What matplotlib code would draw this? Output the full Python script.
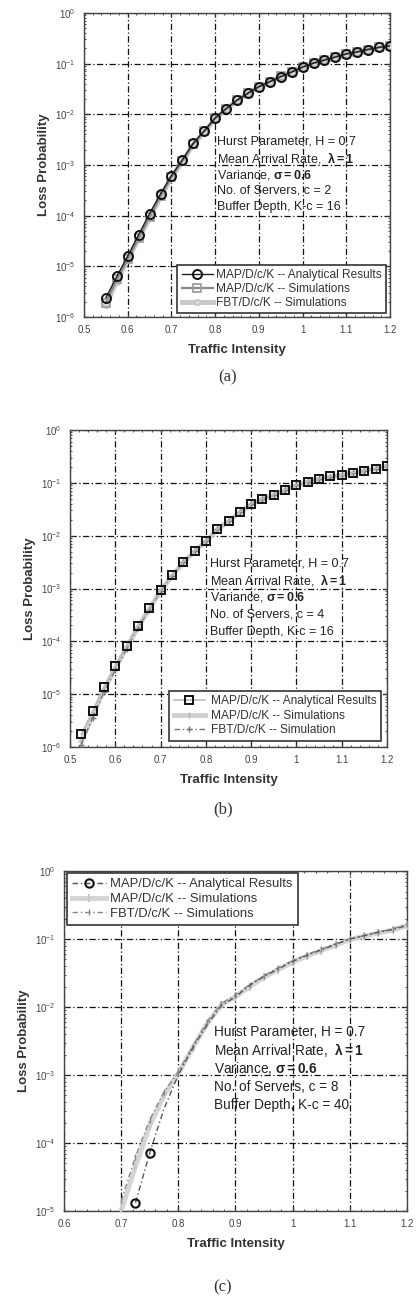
import numpy as np
import matplotlib
matplotlib.use('Agg')
import matplotlib.pyplot as plt
from matplotlib.ticker import FixedLocator, LogLocator, NullFormatter, MultipleLocator

plt.rcParams['font.family'] = ['Liberation Sans', 'DejaVu Sans']
plt.rcParams['mathtext.fontset'] = 'custom'
plt.rcParams['mathtext.rm'] = 'Liberation Sans'
plt.rcParams['mathtext.it'] = 'Liberation Sans:italic'
plt.rcParams['mathtext.bf'] = 'Liberation Sans:bold'

# (a) c = 2, K-c = 16
a_x = [0.55, 0.575, 0.6, 0.625, 0.65, 0.675, 0.7, 0.725, 0.75, 0.775, 0.8, 0.825, 0.85, 0.875,
       0.9, 0.925, 0.95, 0.975, 1.0, 1.025, 1.05, 1.075, 1.1, 1.125, 1.15, 1.175, 1.2]
a_ana = [2.4e-6, 6.3e-6, 1.6e-5, 4.2e-5, 1.1e-4, 2.7e-4, 6.2e-4, 1.26e-3, 2.7e-3, 4.7e-3, 8.5e-3,
         0.0129, 0.019, 0.026, 0.035, 0.044, 0.055, 0.068, 0.085, 0.102, 0.117, 0.135, 0.155,
         0.17, 0.19, 0.209, 0.224]
a_map = [1.9e-6, 5.5e-6, 1.4e-5, 3.6e-5, 9.5e-5, 2.4e-4, 5.8e-4, 1.2e-3, 2.6e-3, 4.6e-3, 8.3e-3,
         0.0127, 0.0188, 0.026, 0.035, 0.044, 0.056, 0.069, 0.086, 0.103, 0.118, 0.136, 0.156,
         0.171, 0.19, 0.21, 0.225]
a_fbt = [1.7e-6, 5.0e-6, 1.35e-5, 3.5e-5, 9.0e-5, 2.3e-4, 5.6e-4, 1.18e-3, 2.5e-3, 4.5e-3, 8.1e-3,
         0.0125, 0.0185, 0.0258, 0.0345, 0.0435, 0.0555, 0.068, 0.085, 0.101, 0.116, 0.134,
         0.154, 0.17, 0.189, 0.208, 0.222]

# (b) c = 4, K-c = 16
b_x = [0.525, 0.55, 0.575, 0.6, 0.625, 0.65, 0.675, 0.7, 0.725, 0.75, 0.775, 0.8, 0.825, 0.85,
       0.875, 0.9, 0.925, 0.95, 0.975, 1.0, 1.025, 1.05, 1.075, 1.1, 1.125, 1.15, 1.175, 1.2]
b_ana = [1.74e-6, 4.8e-6, 1.35e-5, 3.4e-5, 8.1e-5, 1.95e-4, 4.3e-4, 9.3e-4, 1.78e-3, 3.2e-3,
         5.1e-3, 7.9e-3, 0.0132, 0.019, 0.028, 0.040, 0.050, 0.060, 0.074, 0.091, 0.105, 0.120,
         0.132, 0.141, 0.155, 0.170, 0.186, 0.209]
b_map = [1.3e-6, 4.0e-6, 1.2e-5, 3.1e-5, 7.6e-5, 1.85e-4, 4.1e-4, 9.0e-4, 1.7e-3, 3.1e-3,
         5.0e-3, 7.8e-3, 0.013, 0.0188, 0.0275, 0.039, 0.049, 0.059, 0.073, 0.09, 0.104, 0.118,
         0.131, 0.14, 0.153, 0.168, 0.185, 0.21]
b_fbt = [1.1e-6, 3.6e-6, 1.1e-5, 2.9e-5, 7.2e-5, 1.8e-4, 4.0e-4, 8.8e-4, 1.72e-3, 3.15e-3,
         5.05e-3, 7.9e-3, 0.0131, 0.0189, 0.0277, 0.0395, 0.0495, 0.0595, 0.0735, 0.0905, 0.104,
         0.119, 0.131, 0.141, 0.154, 0.169, 0.186, 0.208]

# (c) c = 8, K-c = 40
c_x_ana = [0.725, 0.75, 0.775, 0.8, 0.825, 0.85, 0.875, 0.9, 0.925, 0.95, 0.975, 1.0, 1.025,
           1.05, 1.075, 1.1, 1.125, 1.15, 1.175, 1.2]
c_ana = [1.32e-5, 7.1e-5, 3.2e-4, 1.0e-3, 2.5e-3, 5.4e-3, 0.0105, 0.0141, 0.0209, 0.0282,
         0.0363, 0.0468, 0.0575, 0.0692, 0.0832, 0.1, 0.112, 0.126, 0.138, 0.158]
c_x_sim = [0.7, 0.725, 0.75, 0.775, 0.8, 0.825, 0.85, 0.875, 0.9, 0.925, 0.95, 0.975, 1.0, 1.025,
           1.05, 1.075, 1.1, 1.125, 1.15, 1.175, 1.2]
c_map = [1.0e-5, 4.5e-5, 1.8e-4, 5.0e-4, 1.05e-3, 2.5e-3, 5.6e-3, 0.0107, 0.0141, 0.02, 0.0275,
         0.0355, 0.0457, 0.0562, 0.0676, 0.0813, 0.098, 0.11, 0.123, 0.135, 0.158]
c_fbt = [1.4e-5, 6.3e-5, 2.2e-4, 5.6e-4, 1.12e-3, 2.6e-3, 6.0e-3, 0.0112, 0.0151, 0.0214, 0.0288,
         0.038, 0.0479, 0.0589, 0.0708, 0.0851, 0.1, 0.112, 0.126, 0.141, 0.166]

notes_ab = ['Hurst Parameter, H = 0.7', r'Mean Arrival Rate,  $\mathbf{\lambda=1}$',
            r'Variance, $\mathbf{\sigma=0.6}$']

fig = plt.figure(figsize=(4.19, 12.96), dpi=100)


def style_axes(ax, xmin, xmax, ymin_exp):
    ax.set_yscale('log')
    ax.set_xlim(xmin, xmax)
    ax.set_ylim(10.0 ** ymin_exp, 1)
    ax.xaxis.set_major_locator(MultipleLocator(0.1))
    ax.xaxis.set_minor_locator(MultipleLocator(0.02))
    ax.set_xticklabels([('%g' % t) for t in ax.get_xticks()])
    ax.set_xlim(xmin, xmax)
    exps = list(range(ymin_exp, 1))
    ax.yaxis.set_major_locator(FixedLocator([10.0 ** e for e in exps]))
    ax.set_yticklabels([r'$10^{%d}$' % e for e in exps])
    ax.yaxis.set_minor_locator(LogLocator(base=10, subs=np.arange(2, 10)))
    ax.yaxis.set_minor_formatter(NullFormatter())
    ax.tick_params(which='both', direction='in', top=True, right=True, colors='#333333',
                   labelcolor='#444444')
    ax.tick_params(which='major', length=3, labelsize=7, pad=6)
    ax.tick_params(which='minor', length=1.5)
    ax.grid(True, which='major', color='#111111', linestyle=(0, (5, 2, 1, 2)), linewidth=0.9)
    for s in ax.spines.values():
        s.set_color('#444444')
        s.set_linewidth(1.0)
    ax.set_xlabel('Traffic Intensity', fontsize=9.5, fontweight='bold', color='#333333', labelpad=6)
    ax.set_ylabel('Loss Probability', fontsize=9.5, fontweight='bold', color='#333333', labelpad=4)


# ---- (a)
ax1 = fig.add_axes([0.2005, 0.7554, 0.7303, 0.2346])
ax1.plot(a_x, a_fbt, '-', color='#c8c8c8', lw=3.5, marker='o', ms=4, mfc='#dddddd', mec='#c0c0c0',
         label='FBT/D/c/K -- Simulations', zorder=3)
ax1.plot(a_x, a_map, '-', color='#8a8a8a', lw=1.6, marker='s', ms=5.5, mfc='none', mec='#9a9a9a',
         mew=1.2, label='MAP/D/c/K -- Simulations', zorder=4)
ax1.plot(a_x, a_ana, '-', color='#222222', lw=1.0, marker='o', ms=6.5, mfc='none', mec='#111111',
         mew=1.4, label='MAP/D/c/K -- Analytical Results', zorder=5)
style_axes(ax1, 0.5, 1.2, -6)
h, l = ax1.get_legend_handles_labels()
leg = ax1.legend(h[::-1], l[::-1], loc='lower right', bbox_to_anchor=(0.987, 0.013),
                 borderaxespad=0, fontsize=8.6, fancybox=False, edgecolor='#333333',
                 framealpha=1, labelspacing=0.15, handlelength=2.6, handletextpad=0.3,
                 borderpad=0.35)
leg.get_frame().set_linewidth(1.2)
for t in leg.get_texts():
    t.set_color('#333333')
for i, s in enumerate(notes_ab + ['No. of Servers, c = 2', 'Buffer Depth, K-c = 16']):
    ax1.text(0.435, (317 - 142 - 16.3 * i) / 304, s, transform=ax1.transAxes, fontsize=9,
             color='#222222', va='center', ha='left', zorder=6)
fig.text(228 / 419, 1 - 377 / 1296, '(a)', family='Liberation Serif', fontsize=12,
         ha='center', va='center', color='#333333')

# ---- (b)
ax2 = fig.add_axes([0.1671, 0.4236, 0.7566, 0.2446])
ax2.plot(b_x, b_map, '-', color='#d0d0d0', lw=3.5, marker='|', ms=5, mec='#b0b0b0',
         label='MAP/D/c/K -- Simulations', zorder=3)
ax2.plot(b_x, b_fbt, color='#777777', lw=1.0, linestyle=(0, (4, 2, 1, 2)), marker='+', ms=4,
         mec='#777777', label='FBT/D/c/K -- Simulation', zorder=4)
ax2.plot(b_x, b_ana, '-', color='#bbbbbb', lw=1.2, marker='s', ms=5.5, mfc='none', mec='#111111',
         mew=1.4, label='MAP/D/c/K -- Analytical Results', zorder=5)
style_axes(ax2, 0.5, 1.2, -6)
h, l = ax2.get_legend_handles_labels()
leg = ax2.legend([h[2], h[0], h[1]], [l[2], l[0], l[1]], loc='lower right',
                 bbox_to_anchor=(0.981, 0.019), borderaxespad=0, fontsize=8.6, fancybox=False,
                 edgecolor='#333333', framealpha=1, labelspacing=0.2, handlelength=2.6,
                 handletextpad=0.5, borderpad=0.4)
leg.get_frame().set_linewidth(1.2)
for t in leg.get_texts():
    t.set_color('#333333')
for i, s in enumerate(notes_ab + ['No. of Servers, c = 4', 'Buffer Depth, K-c = 16']):
    ax2.text(0.442, (747 - 563 - 17.2 * i) / 317, s, transform=ax2.transAxes, fontsize=9,
             color='#222222', va='center', ha='left', zorder=6)
fig.text(223 / 419, 1 - 809 / 1296, '(b)', family='Liberation Serif', fontsize=12,
         ha='center', va='center', color='#333333')

# ---- (c)
ax3 = fig.add_axes([0.1527, 0.0656, 0.8186, 0.2623])
ax3.plot(c_x_sim, c_map, color='#d4d4d4', lw=3.5, linestyle='-', marker='|', ms=6, mec='#c8c8c8',
         mew=1.5, label='MAP/D/c/K -- Simulations', zorder=3)
ax3.plot(c_x_sim, c_fbt, color='#888888', lw=1.0, linestyle=(0, (4, 2, 1, 2)), marker='|', ms=5,
         mec='#888888', label='FBT/D/c/K -- Simulations', zorder=4)
ax3.plot(c_x_ana, c_ana, color='#555555', lw=1.0, linestyle=(0, (4, 2, 1, 2)), marker='o', ms=6,
         mfc='none', mec='#111111', mew=1.5, markevery=[0, 1],
         label='MAP/D/c/K -- Analytical Results', zorder=5)
style_axes(ax3, 0.6, 1.2, -5)
h, l = ax3.get_legend_handles_labels()
leg = ax3.legend([h[2], h[0], h[1]], [l[2], l[0], l[1]], loc='upper left',
                 bbox_to_anchor=(0.009, 0.994), borderaxespad=0, fontsize=9.4, fancybox=False,
                 edgecolor='#333333', framealpha=1, labelspacing=0.2, handlelength=2.6,
                 handletextpad=0.3, borderpad=0.4)
leg.get_frame().set_linewidth(1.2)
for t in leg.get_texts():
    t.set_color('#333333')
for i, s in enumerate(notes_ab + ['No. of Servers, c = 8', 'Buffer Depth, K-c = 40']):
    ax3.text(0.437, (1211 - 1032 - 18.3 * i) / 340, s, transform=ax3.transAxes, fontsize=9.8,
             color='#222222', va='center', ha='left', zorder=6)
fig.text(223 / 419, 1 - 1287 / 1296, '(c)', family='Liberation Serif', fontsize=12,
         ha='center', va='center', color='#333333')

fig.savefig('out.png', dpi=100, facecolor='white')
